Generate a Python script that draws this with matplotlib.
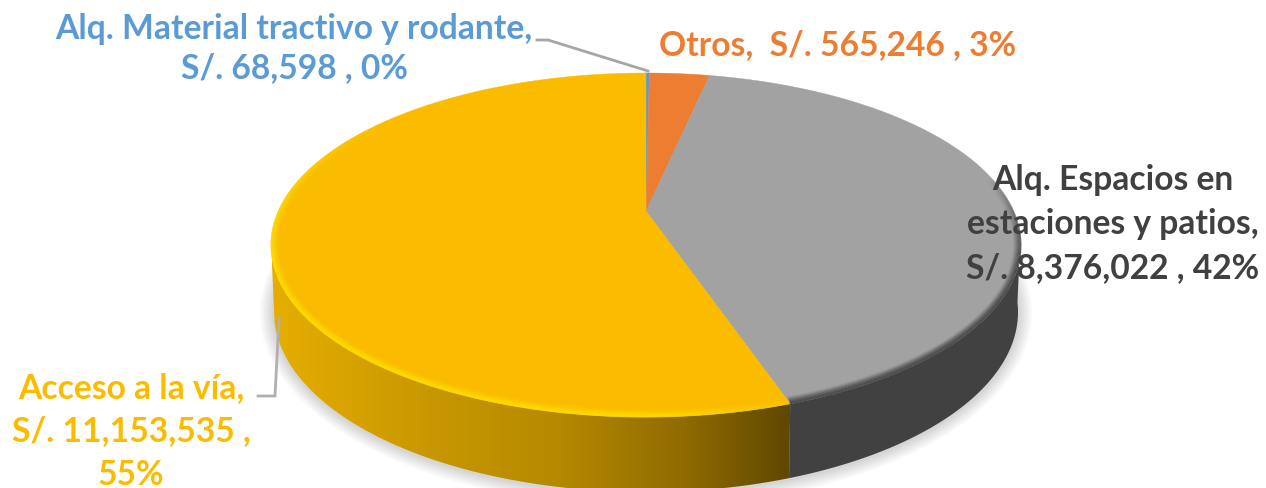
#!/usr/bin/env python3
import numpy as np
import matplotlib
matplotlib.use('Agg')
import matplotlib.pyplot as plt
from matplotlib.collections import LineCollection
from matplotlib.colors import LinearSegmentedColormap, to_rgb
from matplotlib.patches import Ellipse, Polygon

# data
names = ['Alq. Material tractivo y rodante,', 'Otros,  ', 'Alq. Espacios en\nestaciones y patios,', 'Acceso a la vía,']
values = [68598, 565246, 8376022, 11153535]
colors = ['#5B9BD5', '#ED7D31', '#A2A2A2', '#FBBC00']
text_colors = ['#5B9BD5', '#ED7D31', '#404040', '#FBBC00']

plt.rcParams['font.family'] = ['Lato', 'DejaVu Sans']

# pie geometry in pixels
CX, CY, RX, RY = 646, 246, 375, 172
BOT_CY, BOT_RX, BOT_RY = 313, 372, 180
APEX = (646, 212)


def warp(t):
    # perspective squeezes the angles a little on the near side
    return t - 3.5 * np.sin(np.radians(t / 2)) ** 0.35


def top_pt(t, inset=0):
    r = np.radians(warp(t))
    return CX + (RX - inset) * np.sin(r), CY - (RY - inset) * np.cos(r)


def bot_pt(t):
    r = np.radians(warp(t))
    return CX + BOT_RX * np.sin(r), BOT_CY - BOT_RY * np.cos(r)


def rim_band(ax, t0, t1, color, fade, width=9, power=1.3):
    # stack of inset arcs, fakes the soft bevel round the top face
    t = np.linspace(t0, t1, 240)
    rgb = to_rgb(color)
    for d in np.arange(0.5, width, 1.0):
        x, y = top_pt(t, d)
        pts = np.column_stack([x, y])
        segs = np.stack([pts[:-1], pts[1:]], axis=1)
        strength = (1 - d / width) ** power
        rgba = [(*rgb, strength * fade(a)) for a in t[:-1]]
        ax.add_collection(LineCollection(segs, colors=rgba, linewidths=1.4, zorder=4))


fig = plt.figure(figsize=(12.66, 4.89), dpi=100)
ax = fig.add_axes([0, 0, 1, 1])

# soft shadow under the disc
for grow in range(14, 0, -2):
    ax.add_patch(Ellipse((CX, BOT_CY + 1), 2 * (BOT_RX + grow), 2 * (BOT_RY + grow),
                         facecolor='black', edgecolor='none', alpha=0.022, zorder=1))

shares = np.array(values) / sum(values)
edges = np.concatenate([[0], np.cumsum(shares) * 360])
corner = edges[3]

# side wall, yellow gets a left to right gradient
t = np.linspace(corner, 270, 200)
xt, yt = top_pt(t)
xb, yb = bot_pt(t)
wall = Polygon(np.column_stack([np.r_[xt, xb[::-1]], np.r_[yt, yb[::-1]]]),
               facecolor='none', edgecolor='none', zorder=2)
ax.add_patch(wall)
cmap = LinearSegmentedColormap.from_list(
    'wall', [(0, '#E6AE00'), (0.3, '#C99800'), (0.55, '#B58900'), (0.8, '#8E6B00'), (1, '#5E4700')])
img = ax.imshow(np.linspace(0, 1, 256)[None, :], extent=(272, 792, 489, 240),
                cmap=cmap, aspect='auto', zorder=2)
img.set_clip_path(wall)

t = np.linspace(90, corner, 120)
xt, yt = top_pt(t)
xb, yb = bot_pt(t)
ax.add_patch(Polygon(np.column_stack([np.r_[xt, xb[::-1]], np.r_[yt, yb[::-1]]]),
                     facecolor='#414141', edgecolor='none', zorder=2))

# top face
for i, val in enumerate(values):
    t = np.linspace(edges[i], edges[i + 1], max(int(edges[i + 1] - edges[i]) * 3, 6))
    x, y = top_pt(t)
    ax.add_patch(Polygon(np.column_stack([np.r_[APEX[0], x], np.r_[APEX[1], y]]),
                         facecolor=colors[i], edgecolor=colors[i], linewidth=0.3, zorder=3))

# bevel
rim_band(ax, corner, 320, '#FFE000',
         lambda a: 0.8 * np.clip((320 - a) / 50, 0, 1) * np.clip((a - corner + 4) / 30, 0, 1),
         width=9, power=1.6)
rim_band(ax, 70, corner, '#4A4A4A', lambda a: np.clip((a - 70) / 30, 0, 1), width=8)

# leader lines
ax.plot([537, 548, 648], [41, 41, 72], color='#A6A6A6', lw=2, zorder=5, solid_joinstyle='miter')
ax.plot([258, 275, 279], [397, 397, 320], color='#B0B0B0', lw=2, zorder=5, solid_joinstyle='miter')


def label(i):
    amount = f'S/. {values[i]:,} , {shares[i] * 100:.0f}%'
    return names[i], amount


FS = 24.2
common = dict(fontsize=FS, fontweight='bold', ha='center', va='center', zorder=6)

name, amount = label(0)
ax.text(294, 29, name, color=text_colors[0], **common)
ax.text(294, 68, amount, color=text_colors[0], **common)

name, amount = label(1)
ax.text(838, 45, name + amount, color=text_colors[1], **common)

name, amount = label(2)
for line, yy in zip(name.split('\n') + [amount], [180, 224, 268]):
    ax.text(1113, yy, line, color=text_colors[2], **common)

name, amount = label(3)
money, pct = amount.rsplit(' ', 1)
for line, yy in zip([name, money, pct], [388, 431, 475]):
    ax.text(131, yy, line, color=text_colors[3], **common)

ax.set_xlim(0, 1266)
ax.set_ylim(489, 0)
ax.axis('off')

fig.savefig('out.png', dpi=100)
